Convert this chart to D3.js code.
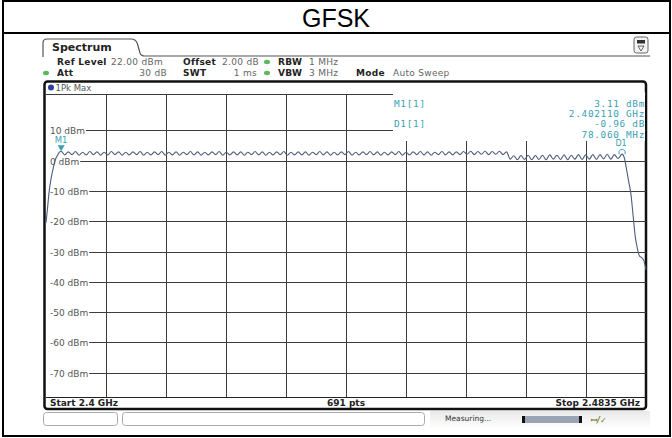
<!DOCTYPE html>
<html><head><meta charset="utf-8">
<script src="https://cdn.jsdelivr.net/npm/d3@7/dist/d3.min.js"></script>
<style>html,body{margin:0;padding:0;background:#fff;} svg{display:block;}</style>
</head><body><svg id="c" width="672" height="438"></svg>
<script>
// ---------- data ----------
const title = "GFSK";
const refLevel = 22;          // dBm, top of grid
const rangeDb = 100;          // 10 dB/div
const startMHz = 2400.0, stopMHz = 2483.5;
const yTickLabels = [10, 0, -10, -20, -30, -40, -50, -60, -70];
const marker1 = {name: "M1", mhz: 2402.11, dbm: 3.11};
const delta1 = {name: "D1", mhz: 2480.17, dbm: 2.15};
const markerTable = [
  ["M1[1]", "3.11 dBm"], ["", "2.402110 GHz"],
  ["D1[1]", "-0.96 dB"], ["", "78.060 MHz"]
];
const headerRow1 = [["Ref Level","b"],["22.00 dBm","v"],["Offset","b"],["2.00 dB","v"],["•","g"],["RBW","b"],["1 MHz","v"]];
const headerRow2 = [["Att","b"],["30 dB","v"],["SWT","b"],["1 ms","v"],["•","g"],["VBW","b"],["3 MHz","v"],["Mode","b"],["Auto Sweep","v"]];
const footer = ["Start 2.4 GHz", "691 pts", "Stop 2.4835 GHz"];
// trace 1Pk Max: [MHz, dBm]
const tracePoints = [
 [2400.0,-20.5],[2400.2,-16],[2400.4,-11],[2400.7,-6],[2401.0,-2.5],[2401.3,0.3],[2401.6,1.8],[2401.85,2.7],[2402.1,3.11],
 [2402.6,1.9],[2403.1,2.9],[2403.6,2.0],[2404.1,3.0],[2404.6,1.8],[2405.1,2.8],[2405.6,1.9],[2406.1,3.0],[2406.6,2.0],[2407.1,2.9],
 [2407.6,1.8],[2408.1,2.8],[2408.6,1.9],[2409.1,3.0],[2409.6,2.0],[2410.1,2.9],[2410.6,1.8],[2411.1,2.8],[2411.6,1.9],[2412.1,2.9],
 [2412.6,2.0],[2413.1,3.0],[2413.6,1.8],[2414.1,2.8],[2414.6,1.9],[2415.1,2.9],[2415.6,2.0],[2416.1,3.0],[2416.6,1.8],[2417.1,2.8],
 [2417.6,1.9],[2418.1,2.9],[2418.6,1.8],[2419.1,2.8],[2419.6,2.0],[2420.1,3.0],[2420.6,1.9],[2421.1,2.9],[2421.6,1.8],[2422.1,2.8],
 [2422.6,1.9],[2423.1,2.9],[2423.6,2.0],[2424.1,3.0],[2424.6,1.8],[2425.1,2.8],[2425.6,1.9],[2426.1,2.9],[2426.6,1.9],[2427.1,2.9],
 [2427.6,1.8],[2428.1,2.8],[2428.6,2.0],[2429.1,3.0],[2429.6,1.9],[2430.1,2.9],[2430.6,1.8],[2431.1,2.8],[2431.6,1.9],[2432.1,2.9],
 [2432.6,2.0],[2433.1,3.0],[2433.6,1.8],[2434.1,2.8],[2434.6,1.9],[2435.1,2.9],[2435.6,1.9],[2436.1,2.9],[2436.6,1.8],[2437.1,2.8],
 [2437.6,2.0],[2438.1,3.0],[2438.6,1.9],[2439.1,2.9],[2439.6,1.8],[2440.1,2.8],[2440.6,1.9],[2441.1,2.9],[2441.6,2.0],[2442.1,3.0],
 [2442.6,1.8],[2443.1,2.8],[2443.6,1.9],[2444.1,2.9],[2444.6,2.0],[2445.1,3.0],[2445.6,1.9],[2446.1,2.9],[2446.6,1.8],[2447.1,2.8],
 [2447.6,1.9],[2448.1,2.9],[2448.6,2.0],[2449.1,3.0],[2449.6,1.8],[2450.1,2.8],[2450.6,1.9],[2451.1,2.9],[2451.6,2.0],[2452.1,3.0],
 [2452.6,1.9],[2453.1,2.9],[2453.6,1.8],[2454.1,2.8],[2454.6,2.0],[2455.1,3.0],[2455.6,1.9],[2456.1,2.9],[2456.6,1.9],[2457.1,2.9],
 [2457.6,2.0],[2458.1,3.0],[2458.6,2.1],[2459.1,3.1],[2459.6,2.0],[2460.1,3.0],[2460.6,2.1],[2461.1,3.1],[2461.6,2.0],[2462.1,3.0],
 [2462.6,2.1],[2463.1,3.1],[2463.6,2.0],[2464.1,2.9],
 [2464.6,0.5],[2465.1,1.6],[2465.6,0.3],[2466.1,1.7],[2466.6,0.4],[2467.1,1.8],[2467.6,0.3],[2468.1,1.7],[2468.6,0.4],[2469.1,1.8],
 [2469.6,0.3],[2470.1,1.9],[2470.6,0.5],[2471.1,1.8],[2471.6,0.4],[2472.1,1.9],[2472.6,0.3],[2473.1,1.8],[2473.6,0.5],[2474.1,2.0],
 [2474.6,0.4],[2475.1,1.9],[2475.6,0.5],[2476.1,2.0],[2476.6,0.4],[2477.1,2.0],[2477.6,0.6],[2478.1,2.1],[2478.6,0.5],[2479.1,2.0],
 [2479.6,0.7],[2480.17,2.15],
 [2480.5,0.8],[2480.8,-3],[2481.1,-7],[2481.4,-11],[2481.7,-18],[2482.0,-25],[2482.3,-29],[2482.6,-31.5],[2482.9,-32],[2483.2,-33],[2483.5,-36]
];

// ---------- drawing ----------
const svg = d3.select("#c");
const SANS = "'DejaVu Sans', Verdana, sans-serif";
const MONO = "'DejaVu Sans Mono', monospace";
const gx0 = 46, gx1 = 646, gy0 = 94, gy1 = 397;
const x = d3.scaleLinear().domain([startMHz, stopMHz]).range([gx0, gx1]);
const y = d3.scaleLinear().domain([refLevel - rangeDb, refLevel]).range([gy1, gy0]);
const teal = "#3a9fb3";

svg.append("rect").attr("width",672).attr("height",438).attr("fill","#fff");

// outer table
svg.append("rect").attr("x",3).attr("y",1).attr("width",667).attr("height",435)
  .attr("fill","none").attr("stroke","#000").attr("stroke-width",2);
svg.append("line").attr("x1",3).attr("x2",670).attr("y1",33).attr("y2",33).attr("stroke","#000").attr("stroke-width",2);
svg.append("text").attr("x",336).attr("y",26.5).attr("text-anchor","middle")
  .attr("font-family","'Liberation Sans', Arial, sans-serif").attr("font-size",25).attr("fill","#000").text(title);

// tab
svg.append("path").attr("d","M43,57 L43,43 Q43,39 47,39 L131,39 Q136,39 137.5,44 L140,53 Q141,56 145,56 L650,56")
  .attr("fill","none").attr("stroke","#555").attr("stroke-width",1.2);
svg.append("text").attr("x",52).attr("y",51).attr("font-family",SANS).attr("font-weight","bold")
  .attr("font-size",11).attr("fill","#222").text("Spectrum");
// icon
const ic = svg.append("g");
ic.append("rect").attr("x",634).attr("y",37).attr("width",14).attr("height",16).attr("rx",2.5)
  .attr("fill","#f4f4f4").attr("stroke","#555").attr("stroke-width",0.9);
ic.append("rect").attr("x",637).attr("y",40).attr("width",8).attr("height",3.5).attr("fill","#333");
ic.append("path").attr("d","M638,46 L644,46 L641,51 Z").attr("fill","none").attr("stroke","#444").attr("stroke-width",0.8);

// header rows
function headerRow(items, yy, xs) {
  items.forEach((it, i) => {
    if (it[1] === "g") {
      svg.append("ellipse").attr("cx", xs[i]).attr("cy", yy - 3).attr("rx", 3).attr("ry", 2.2).attr("fill", "#5cb85c");
      return;
    }
    const t = svg.append("text").attr("y", yy).attr("font-family", SANS).attr("font-size", 9)
      .attr("letter-spacing", 0.3)
      .attr("font-weight", it[1] === "b" ? "bold" : "normal")
      .attr("fill", it[1] === "b" ? "#222" : "#666").text(it[0]);
    if (Array.isArray(xs[i])) t.attr("x", xs[i][0]).attr("text-anchor", "end");
    else t.attr("x", xs[i]);
  });
}
headerRow(headerRow1, 65, [57, 111, 183, 222, 267, 278, 309]);
headerRow(headerRow2, 76, [57, [167], 183, [257], 267, 278, 309, 356, 393]);
svg.append("ellipse").attr("cx",46).attr("cy",73).attr("rx",3).attr("ry",2.2).attr("fill","#5cb85c");

// frame
svg.append("rect").attr("x",44.5).attr("y",81.5).attr("width",601.5).attr("height",327.5).attr("rx",3)
  .attr("fill","#fff").attr("stroke","#111").attr("stroke-width",2.5);
svg.append("circle").attr("cx",51).attr("cy",87.5).attr("r",3).attr("fill","#2f3f9a");
svg.append("text").attr("x",55.5).attr("y",91).attr("font-family",SANS).attr("font-size",8.5).attr("fill","#555").text("1Pk Max");

// grid
const gridC = "#3c3c3c";
const vFreqs = d3.range(1, 10).map(i => startMHz + i * (stopMHz - startMHz) / 10);
svg.append("g").selectAll("line").data(vFreqs).join("line")
  .attr("x1", d => Math.round(x(d)) + 0.5).attr("x2", d => Math.round(x(d)) + 0.5)
  .attr("y1", gy0).attr("y2", gy1).attr("stroke", gridC).attr("stroke-width", 1);
const hLevels = [refLevel].concat(yTickLabels).concat([refLevel - rangeDb]);
svg.append("g").selectAll("line").data(hLevels).join("line")
  .attr("x1", gx0).attr("x2", gx1)
  .attr("y1", d => Math.round(y(d)) + 0.5).attr("y2", d => Math.round(y(d)) + 0.5)
  .attr("stroke", gridC).attr("stroke-width", 1);
// marker table overlay (white)
svg.append("rect").attr("x", 393).attr("y", 92).attr("width", 252).attr("height", 49).attr("fill", "#fff");

// y labels
const yl = svg.append("g");
yTickLabels.forEach(v => {
  const yy = Math.round(y(v)) + 0.5;
  const t = yl.append("text").attr("x", 50).attr("y", yy + 3.2).attr("font-family", SANS)
    .attr("font-size", 9).attr("fill", "#555").text(v + " dBm");
  const w = t.node().getComputedTextLength();
  yl.insert("rect", "text").attr("x", gx0).attr("y", yy - 5).attr("width", 50 + w + 1 - gx0).attr("height", 10).attr("fill", "#fff");
});

// bottom status row
svg.append("line").attr("x1", gx0).attr("x2", gx1).attr("y1", gy1 + 0.5).attr("y2", gy1 + 0.5).attr("stroke", "#222");
const fy = 406;
svg.append("text").attr("x", 50).attr("y", fy).attr("font-family", SANS).attr("font-weight","bold").attr("font-size", 9).attr("fill","#222").text(footer[0]);
svg.append("text").attr("x", 346).attr("y", fy).attr("text-anchor","middle").attr("font-family", SANS).attr("font-weight","bold").attr("font-size", 9).attr("fill","#222").text(footer[1]);
svg.append("text").attr("x", 640).attr("y", fy).attr("text-anchor","end").attr("font-family", SANS).attr("font-weight","bold").attr("font-size", 9).attr("fill","#222").text(footer[2]);

// trace
const line = d3.line().x(d => x(d[0])).y(d => y(d[1])).curve(d3.curveMonotoneX);
svg.append("path").datum(tracePoints).attr("d", line).attr("fill", "none")
  .attr("stroke", "#4d5c7c").attr("stroke-width", 1.1);

// markers
const m1x = x(marker1.mhz), m1y = y(marker1.dbm);
svg.append("path").attr("d", `M${m1x-3.5},${m1y-6} L${m1x+3.5},${m1y-6} L${m1x},${m1y} Z`).attr("fill", teal);
svg.append("text").attr("x", m1x).attr("y", m1y - 8).attr("text-anchor","middle").attr("font-family", SANS)
  .attr("font-size", 8.5).attr("fill", teal).text(marker1.name);
const d1x = x(delta1.mhz), d1y = y(delta1.dbm);
svg.append("path").attr("d", `M${d1x-3},${d1y} L${d1x-3},${d1y-3} Q${d1x},${d1y-7} ${d1x+3},${d1y-3} L${d1x+3},${d1y}`)
  .attr("fill","none").attr("stroke", teal).attr("stroke-width",1);
svg.append("text").attr("x", d1x - 1).attr("y", d1y - 8).attr("text-anchor","middle").attr("font-family", SANS)
  .attr("font-size", 8).attr("fill", teal).text(delta1.name);

// marker table text
markerTable.forEach((r, i) => {
  const yy = 106.5 + i * 10.4;
  if (r[0]) svg.append("text").attr("x", 394).attr("y", yy).attr("font-family", MONO).attr("font-size", 9.4)
    .attr("letter-spacing", 0.7).attr("fill", teal).text(r[0]);
  svg.append("text").attr("x", 645).attr("y", yy).attr("text-anchor","end").attr("font-family", MONO).attr("font-size", 9.4)
    .attr("letter-spacing", 0.7).attr("fill", teal).text(r[1]);
});

// lower status bar
const sb = svg.append("g");
const grad = svg.append("defs").append("linearGradient").attr("id","sbg").attr("x1",0).attr("x2",0).attr("y1",0).attr("y2",1);
grad.append("stop").attr("offset","0").attr("stop-color","#e9e9e9");
grad.append("stop").attr("offset","1").attr("stop-color","#fff");
sb.append("rect").attr("x",430).attr("y",411).attr("width",220).attr("height",18).attr("fill","url(#sbg)");
sb.append("rect").attr("x",43.5).attr("y",412.5).attr("width",74).attr("height",13).attr("rx",3).attr("fill","#fff").attr("stroke","#aaa");
sb.append("rect").attr("x",122.5).attr("y",412.5).attr("width",302).attr("height",13).attr("rx",3).attr("fill","#fff").attr("stroke","#aaa");
sb.append("text").attr("x",445).attr("y",421).attr("font-family",SANS).attr("font-size",7.5).attr("fill","#333").text("Measuring...");
sb.append("rect").attr("x",522).attr("y",416).attr("width",60).attr("height",7).attr("fill","#9aa4b4");
sb.append("rect").attr("x",522).attr("y",416).attr("width",3).attr("height",7).attr("fill","#111");
sb.append("rect").attr("x",579).attr("y",416).attr("width",3).attr("height",7).attr("fill","#111");
sb.append("text").attr("x",590).attr("y",422.5).attr("font-family",SANS).attr("font-weight","bold").attr("font-style","italic")
  .attr("font-size",8).attr("fill","#6b7a2a").text("ꟷ/✓");
</script></body></html>
